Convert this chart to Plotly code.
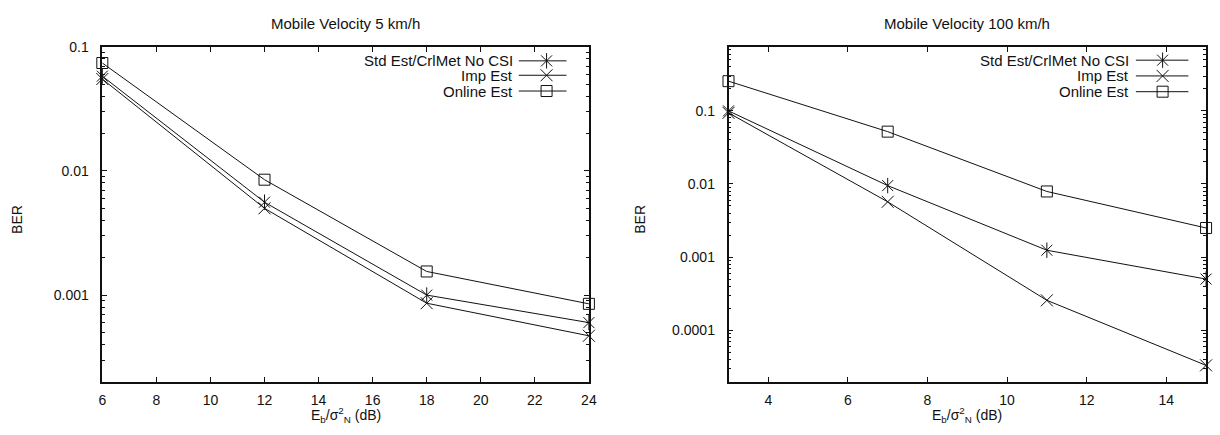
import plotly.graph_objects as go

# ---- data -------------------------------------------------------------
snr_slow = [6, 12, 18, 24]
std_slow = [0.058, 0.0056, 0.00100, 0.00060]
imp_slow = [0.055, 0.0050, 0.00086, 0.00047]
onl_slow = [0.074, 0.0085, 0.00155, 0.00085]

snr_fast = [3, 7, 11, 15]
std_fast = [0.100, 0.0095, 0.00124, 0.00050]
imp_fast = [0.094, 0.0057, 0.000256, 0.000033]
onl_fast = [0.255, 0.052, 0.0079, 0.0025]

series_names = ["Std Est/CrlMet No CSI", "Imp Est", "Online Est"]

ytick_vals_slow = [0.1, 0.01, 0.001]
ytick_text_slow = ["0.1", "0.01", "0.001"]
ytick_vals_fast = [0.1, 0.01, 0.001, 0.0001]
ytick_text_fast = ["0.1", "0.01", "0.001", "0.0001"]

titles = ["Mobile Velocity 5 km/h", "Mobile Velocity 100 km/h"]

# ---- layout geometry --------------------------------------------------
W, H = 1220, 435
FONT = "Liberation Sans, Arial, sans-serif"
BLACK = "#111111"
TICK_PX = 14
KEY_PX = 15
TITLE_PX = 15
LABEL_PX = 14

dom_x1 = [99.3 / W, 590.7 / W]
dom_x2 = [731.7 / W, 1214.0 / W]
dom_y = [1 - 381.0 / H, 1 - 39.5 / H]

fig = go.Figure()

LINE = dict(color=BLACK, width=1)


def add_series(x, y, symbol, size, xa, ya, name, extra_symbol=None):
    fig.add_trace(go.Scatter(
        x=x, y=y, mode="lines+markers", name=name, xaxis=xa, yaxis=ya,
        line=LINE,
        marker=dict(symbol=symbol, size=size, color=BLACK,
                    line=dict(color=BLACK, width=1)),
        showlegend=False, cliponaxis=False))
    if extra_symbol:
        fig.add_trace(go.Scatter(
            x=x, y=y, mode="markers", xaxis=xa, yaxis=ya,
            marker=dict(symbol=extra_symbol, size=size, color=BLACK,
                        line=dict(color=BLACK, width=1)),
            showlegend=False, hoverinfo="skip", cliponaxis=False))


# left panel
add_series(snr_slow, std_slow, "x-thin-open", 11, "x", "y", series_names[0], "line-ns-open")
add_series(snr_slow, imp_slow, "x-thin-open", 12, "x", "y", series_names[1])
add_series(snr_slow, onl_slow, "square-open", 11, "x", "y", series_names[2])
# right panel
add_series(snr_fast, std_fast, "x-thin-open", 11, "x2", "y2", series_names[0], "line-ns-open")
add_series(snr_fast, imp_fast, "x-thin-open", 12, "x2", "y2", series_names[1])
add_series(snr_fast, onl_fast, "square-open", 11, "x2", "y2", series_names[2])

# ---- gnuplot-style keys (text left of sample) ---------------------------
key_styles = [("x-thin-open", 11, "line-ns-open"),
              ("x-thin-open", 12, None),
              ("square-open", 11, None)]
keys = [
    # (x axis, y axis, text end, line start, line end, marker, row ys)
    ("x3", "y3", 0.848, 0.856, 0.954, 0.913, [0.958, 0.915, 0.868]),
    ("x4", "y4", 0.842, 0.853, 0.963, 0.909, [0.960, 0.913, 0.866]),
]
annotations = []
for xa, ya, tx, l0, l1, mx, rows in keys:
    for name, (sym, sz, extra), ry in zip(series_names, key_styles, rows):
        fig.add_trace(go.Scatter(
            x=[l0, l1], y=[ry, ry], mode="lines", xaxis=xa, yaxis=ya,
            line=LINE, showlegend=False, hoverinfo="skip"))
        fig.add_trace(go.Scatter(
            x=[mx], y=[ry], mode="markers", xaxis=xa, yaxis=ya,
            marker=dict(symbol=sym, size=sz, color=BLACK,
                        line=dict(color=BLACK, width=1)),
            showlegend=False, hoverinfo="skip"))
        if extra:
            fig.add_trace(go.Scatter(
                x=[mx], y=[ry], mode="markers", xaxis=xa, yaxis=ya,
                marker=dict(symbol=extra, size=sz, color=BLACK,
                            line=dict(color=BLACK, width=1)),
                showlegend=False, hoverinfo="skip"))
        annotations.append(dict(
            x=tx, y=ry, xref=xa, yref=ya, text=name, showarrow=False,
            xanchor="right", yanchor="middle",
            font=dict(family=FONT, size=KEY_PX, color=BLACK)))

# ---- titles and axis labels --------------------------------------------
for t, dom in zip(titles, [dom_x1, dom_x2]):
    annotations.append(dict(
        x=(dom[0] + dom[1]) / 2, y=1 - 16 / H, xref="paper", yref="paper",
        text=t, showarrow=False, xanchor="center", yanchor="middle",
        font=dict(family=FONT, size=TITLE_PX, color=BLACK)))
    annotations.append(dict(
        x=(dom[0] + dom[1]) / 2, y=1 - 415 / H, xref="paper", yref="paper",
        text="E<sub>b</sub>/σ<sup>2</sup><sub>N</sub> (dB)", showarrow=False,
        xanchor="center", yanchor="middle",
        font=dict(family=FONT, size=LABEL_PX, color=BLACK)))
for px in [13, 642]:
    annotations.append(dict(
        x=px / W, y=1 - 215 / H, xref="paper", yref="paper", text="BER",
        textangle=-90, showarrow=False, xanchor="center", yanchor="middle",
        font=dict(family=FONT, size=LABEL_PX, color=BLACK)))

axis_common = dict(
    showline=True, linecolor=BLACK, linewidth=1.5, mirror="allticks",
    ticks="inside", ticklen=5, tickcolor=BLACK, tickwidth=1,
    showgrid=False, zeroline=False,
    tickfont=dict(family=FONT, size=TICK_PX, color=BLACK),
)
minor_log = dict(ticks="inside", ticklen=3, tickcolor=BLACK, tickwidth=1,
                 dtick="D1", showgrid=False)

fig.update_layout(
    width=W, height=H,
    margin=dict(l=0, r=0, t=0, b=0),
    paper_bgcolor="white", plot_bgcolor="rgba(0,0,0,0)",
    showlegend=False,
    annotations=annotations,
    xaxis=dict(domain=dom_x1, range=[6, 24], tick0=6, dtick=2,
               ticklabelstandoff=4, **axis_common),
    yaxis=dict(domain=dom_y, type="log", range=[-3.7, -1],
               tickvals=ytick_vals_slow, ticktext=ytick_text_slow,
               ticklabelstandoff=9, minor=minor_log, **axis_common),
    xaxis2=dict(domain=dom_x2, range=[3, 15], tick0=0, dtick=2,
                ticklabelstandoff=4, anchor="y2", **axis_common),
    yaxis2=dict(domain=dom_y, type="log", range=[-4.709, -0.123],
                tickvals=ytick_vals_fast, ticktext=ytick_text_fast,
                ticklabelstandoff=9, anchor="x2", minor=minor_log,
                **axis_common),
    xaxis3=dict(domain=dom_x1, range=[0, 1], visible=False, anchor="y3",
                overlaying="x"),
    yaxis3=dict(domain=dom_y, range=[0, 1], visible=False, anchor="x3",
                overlaying="y"),
    xaxis4=dict(domain=dom_x2, range=[0, 1], visible=False, anchor="y4",
                overlaying="x2"),
    yaxis4=dict(domain=dom_y, range=[0, 1], visible=False, anchor="x4",
                overlaying="y2"),
)

fig.write_html("out.html")
